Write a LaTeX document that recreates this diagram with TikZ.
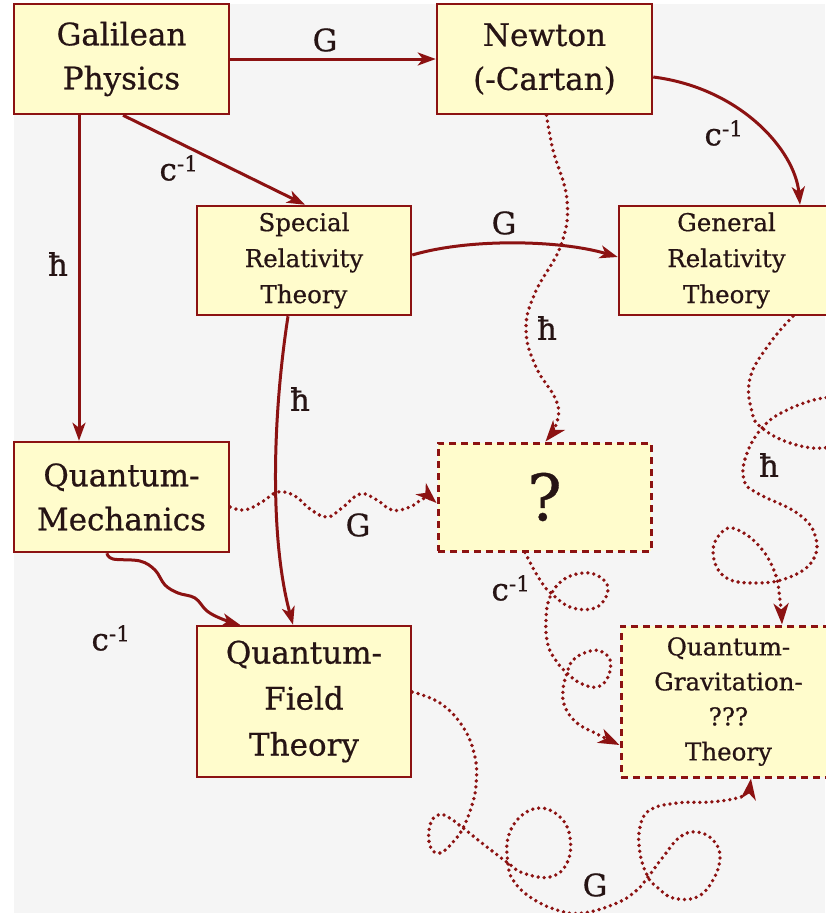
\documentclass[tikz,border=0pt]{standalone}
\usepackage{fontspec}
\setmainfont{DejaVu Serif}[FakeBold=0.6]
\usetikzlibrary{arrows.meta}
\definecolor{dred}{RGB}{140,18,18}
\definecolor{boxfill}{RGB}{255,252,204}
\definecolor{bgc}{RGB}{245,245,245}
\definecolor{txt}{RGB}{38,20,20}
\newcommand{\bigtxt}{\fontsize{31}{44}\selectfont}
\newcommand{\smalltxt}{\fontsize{24.5}{36}\selectfont}
\newcommand{\lbltxt}{\fontsize{31}{32}\selectfont}
\tikzset{
  box/.style={draw=dred, fill=boxfill, line width=2.5pt, minimum width=215pt, minimum height=110pt, align=center, inner sep=0pt, text=txt},
  qbox/.style={box, line width=3pt, dash pattern=on 7pt off 5pt},
  arr/.style={draw=dred, line width=3pt, -{Stealth[length=18pt,width=13pt,inset=5pt]}},
  dots/.style={draw=dred, line width=3.8pt, line cap=round, dash pattern=on 0pt off 6pt, -{Stealth[length=21pt,width=15pt,inset=6pt]}},
  lbl/.style={text=txt, font=\lbltxt, inner sep=0pt}
}
\begin{document}
\begin{tikzpicture}[x=1pt,y=-1pt]
\useasboundingbox (0,0) rectangle (825,913);
\fill[white] (0,0) rectangle (825,913);
\fill[bgc] (14,4) rectangle (825,913);

% boxes
\node[box, font=\bigtxt] (gal) at (121.5,59) {Galilean\\Physics};
\node[box, font=\bigtxt] (new) at (544.5,59) {Newton\\(-Cartan)};
\node[box, font=\smalltxt, minimum width=214pt, minimum height=109pt] (sr) at (304,260.5) {Special\\Relativity\\Theory};
\node[box, font=\smalltxt, minimum height=109pt] (gr) at (726.5,260.5) {General\\Relativity\\Theory};
\node[box, font=\bigtxt] (qm) at (121.5,497) {Quantum-\\Mechanics};
\node[qbox, font=\fontsize{64}{66}\selectfont, minimum width=213pt, minimum height=108pt] (q) at (544.5,497) {?};
\node[box, font=\fontsize{31}{46}\selectfont, minimum width=214pt, minimum height=151pt] (qft) at (304,701.5) {Quantum-\\Field\\Theory};
\node[qbox, font=\fontsize{24.5}{35}\selectfont, minimum height=151pt] (qg) at (728.5,701.5) {Quantum-\\Gravitation-\\???\\Theory};

% solid connectors
\draw[arr] (gal.east) -- (new.west);
\draw[arr] ([xshift=1.5pt]gal.south) -- ([xshift=1pt]sr.north);
\draw[arr] ([xshift=-42.5pt]gal.south) -- ([xshift=-42.5pt]qm.north);
\draw[arr] ([yshift=-18pt]new.east) .. controls (740,88) and (795,150) .. ([xshift=73.5pt]gr.north);
\draw[arr] ([yshift=5.5pt]sr.east) .. controls (470,238) and (560,240) .. ([yshift=3.5pt]gr.west);
\draw[arr] ([xshift=-16pt]sr.south) .. controls (272,420) and (270,540) .. ([xshift=-11pt]qft.north);
\draw[arr] plot[smooth, tension=0.6] coordinates {([xshift=-14.5pt]qm.south) (113,559) (140,561) (155,570) (165,585) (178,593) (195,598) (207,611) (222,619) ([xshift=-64pt]qft.north)};

% dotted connectors
\draw[dots] plot[smooth, tension=0.7] coordinates {([xshift=2pt]new.south) (553,150) (567,200) (561,245) (535,293) (526,330) (536,367) (556,400) (557,422) ([xshift=1pt]q.north)};
\draw[dots] plot[smooth, tension=0.7] coordinates {([yshift=-10pt]qm.east) (245,510) (262,502) (278,492) (295,496) (310,509) (327,517) (342,508) (360,494) (377,500) (392,510) (410,507) (425,498) ([yshift=-6pt]q.west)};
\draw[dots] plot[smooth, tension=0.7] coordinates {([xshift=66.5pt]gr.south) (770,343) (750,378) (752,412) (762,428) (790,443) (823,448) (845,438) (850,418) (840,402) (823,398) (787,410) (762,428) (746,456) (744,480) (757,493) (797,513) (815,535) (813,560) (790,577) (757,583) (725,577) (713,552) (723,531) (738,530) (760,547) (775,573) (780,600) ([xshift=53.5pt]qg.north)};
\draw[dots] plot[smooth, tension=0.7] coordinates {([xshift=-19.5pt]q.south) (540,580) (553,595) (573,608) (597,607) (608,590) (600,577) (583,573) (563,580) (550,597) (546,620) (548,645) (557,662) (567,673) (580,683) (597,687) (608,677) (610,660) (600,651) (587,652) (573,660) (567,673) (563,690) (565,707) (577,723) (595,733) ([yshift=-43.5pt]qg.west)};
\draw[dots] plot[smooth, tension=0.7] coordinates {([yshift=9.5pt]qft.east) (440,703) (463,727) (475,757) (476,785) (472,805) (463,828) (453,842) (440,853) (430,846) (430,825) (438,815) (448,817) (463,828) (487,847) (508,863) (523,873) (550,877) (567,863) (570,837) (560,817) (540,808) (520,817) (508,838) (508,863) (513,880) (530,897) (557,910) (583,913) (617,903) (637,890) (648,877) (663,857) (680,837) (697,832) (713,840) (720,857) (713,880) (697,897) (673,898) (657,887) (648,877) (640,853) (640,827) (650,810) (677,803) (710,802) (737,798) (747,792) ([xshift=22.5pt]qg.south)};

% labels
\node[lbl] (l1) at (325,40) {G};
\node[lbl] (l2) at (179,168) {c\textsuperscript{-1}};
\node[lbl] (l3) at (58,264) {ħ};
\node[lbl] (l4) at (724,133) {c\textsuperscript{-1}};
\node[lbl] (l5) at (504,223) {G};
\node[lbl] (l6) at (547,328) {ħ};
\node[lbl] (l7) at (300,399) {ħ};
\node[lbl] (l8) at (358,525) {G};
\node[lbl] (l9) at (111,638) {c\textsuperscript{-1}};
\node[lbl] (l10) at (769,465) {ħ};
\node[lbl] (l11) at (511,588) {c\textsuperscript{-1}};
\node[lbl] (l12) at (595,885) {G};
\end{tikzpicture}
\end{document}
